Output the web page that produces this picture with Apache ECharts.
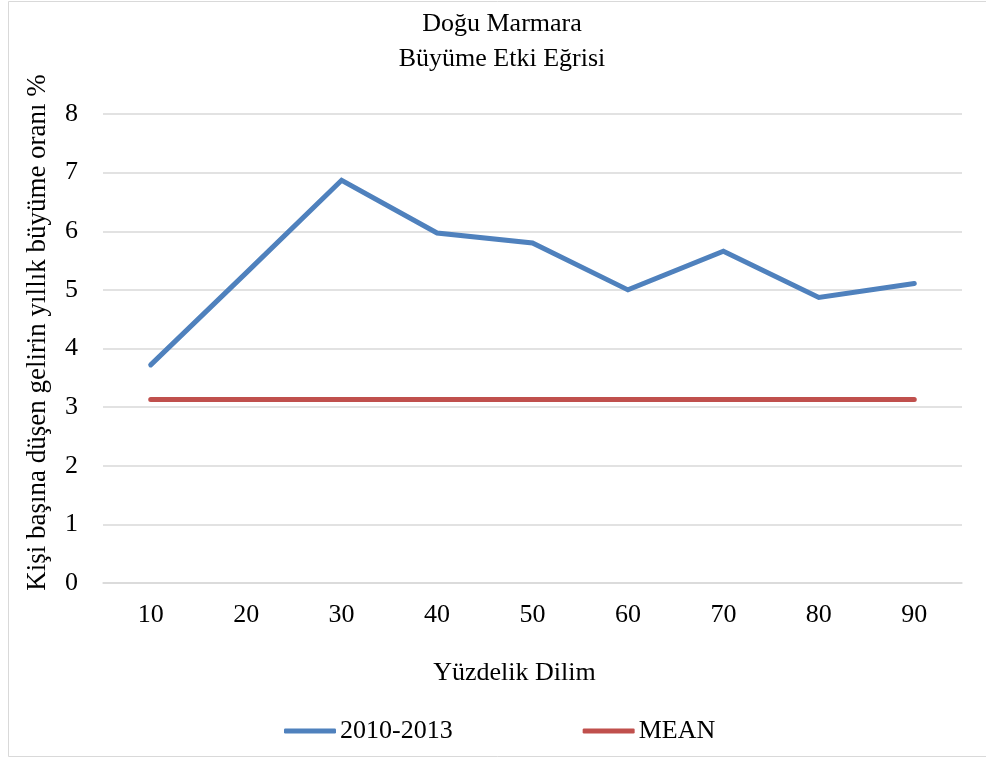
<!DOCTYPE html>
<html>
<head>
<meta charset="utf-8">
<script src="https://cdn.jsdelivr.net/npm/echarts@6/dist/echarts.min.js"></script>
<style>
  html, body { margin: 0; padding: 0; background: #fff; }
  #main { width: 986px; height: 758px; }
</style>
</head>
<body>
<div id="main"></div>
<script>
var categories = ["10", "20", "30", "40", "50", "60", "70", "80", "90"];
var growth = [3.72, 5.29, 6.87, 5.97, 5.8, 5.0, 5.66, 4.87, 5.11];
var mean = [3.13, 3.13, 3.13, 3.13, 3.13, 3.13, 3.13, 3.13, 3.13];

(function () {
  var myChart = echarts.init(document.getElementById("main"));
  var font = "Liberation Serif";
  var option = {
    backgroundColor: "#fff",
    textStyle: { fontFamily: font, color: "#000" },
    title: {
      text: "Doğu Marmara\nBüyüme Etki Eğrisi",
      left: 497,
      textAlign: "center",
      top: 2,
      textStyle: {
        fontFamily: font,
        fontWeight: "normal",
        fontSize: 26,
        lineHeight: 35,
        color: "#000",
      },
    },
    graphic: [
      {
        type: "rect",
        shape: { x: 8.5, y: 1.5, width: 990, height: 755 },
        style: { fill: "none", stroke: "#d9d9d9", lineWidth: 1 },
        silent: true,
      },
    ],
    legend: {
      left: 279,
      top: 713,
      itemWidth: 52,
      itemHeight: 5,
      itemGap: 130,
      icon: "roundRect",
      textStyle: { fontFamily: font, fontSize: 26, color: "#000", padding: [0, 0, 0, -1] },
      data: ["2010-2013", "MEAN"],
    },
    grid: {
      left: 103,
      right: 24,
      top: 114,
      bottom: 175,
    },
    xAxis: {
      type: "category",
      data: categories,
      boundaryGap: true,
      name: "Yüzdelik Dilim",
      nameLocation: "middle",
      nameGap: 77,
      nameTextStyle: { fontFamily: font, fontSize: 26, color: "#000", padding: [0, 36, 0, 0] },
      axisLine: { show: true, lineStyle: { color: "#d9d9d9", width: 1.5 } },
      axisTick: { show: false },
      axisLabel: { fontFamily: font, fontSize: 26, color: "#000", margin: 19 },
    },
    yAxis: {
      type: "value",
      min: 0,
      max: 8,
      interval: 1,
      name: "Kişi başına düşen gelirin yıllık büyüme oranı %",
      nameLocation: "middle",
      nameGap: 52,
      nameTextStyle: { fontFamily: font, fontSize: 27, color: "#000", padding: [0, 0, 0, 32] },
      axisLine: { show: false },
      axisTick: { show: false },
      axisLabel: { fontFamily: font, fontSize: 26, color: "#000", margin: 25 },
      splitLine: { lineStyle: { color: "#d9d9d9", width: 1.5 } },
    },
    series: [
      {
        name: "2010-2013",
        type: "line",
        data: growth,
        symbol: "none",
        color: "#4f81bd",
        lineStyle: { width: 5, color: "#4f81bd", cap: "round", join: "miter" },
      },
      {
        name: "MEAN",
        type: "line",
        data: mean,
        symbol: "none",
        color: "#c0504d",
        lineStyle: { width: 5, color: "#c0504d", cap: "round" },
      },
    ],
  };
  myChart.setOption(option);
  window.addEventListener("resize", function () {
    myChart.resize();
  });
})();
</script>
</body>
</html>
